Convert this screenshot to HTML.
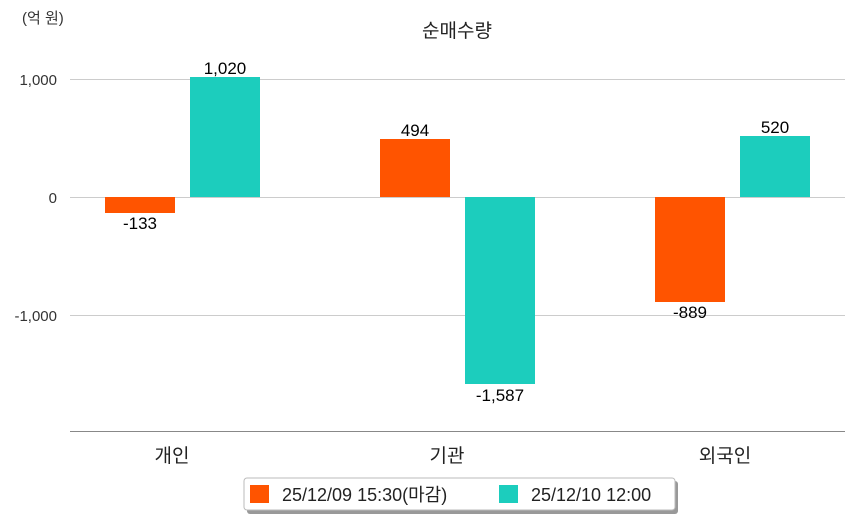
<!DOCTYPE html>
<html><head><meta charset="utf-8"><style>
body{margin:0;background:#fff}
svg text{font-family:"Liberation Sans","Noto Sans CJK KR",sans-serif}
</style></head><body>
<svg width="854" height="520" xmlns="http://www.w3.org/2000/svg">
<rect width="854" height="520" fill="#fff"/>
<text x="22" y="23" font-size="15" fill="#333">(억 원)</text>
<text x="457" y="37" font-size="19" fill="#222" text-anchor="middle">순매수량</text>
<g stroke="#ccc" stroke-width="1">
<line x1="70" y1="79.5" x2="845" y2="79.5"/>
<line x1="70" y1="197.5" x2="845" y2="197.5"/>
<line x1="70" y1="315.5" x2="845" y2="315.5"/>
</g>
<line x1="70" y1="431.5" x2="845" y2="431.5" stroke="#888" stroke-width="1"/>
<g font-size="15" fill="#333" text-anchor="end">
<text x="57" y="85">1,000</text>
<text x="57" y="203">0</text>
<text x="57" y="321">-1,000</text>
</g>
<rect x="105" y="197" width="70" height="16" fill="#ff5400"/>
<rect x="190" y="77" width="70" height="120" fill="#1ccdbd"/>
<rect x="380" y="139" width="70" height="58" fill="#ff5400"/>
<rect x="465" y="197" width="70" height="187" fill="#1ccdbd"/>
<rect x="655" y="197" width="70" height="105" fill="#ff5400"/>
<rect x="740" y="136" width="70" height="61" fill="#1ccdbd"/>
<g font-size="17" fill="#000" text-anchor="middle" font-weight="500">
<text x="140" y="229">-133</text>
<text x="225" y="74">1,020</text>
<text x="415" y="136">494</text>
<text x="500" y="401">-1,587</text>
<text x="690" y="318">-889</text>
<text x="775" y="133">520</text>
</g>
<g font-size="19" fill="#222" text-anchor="middle">
<text x="172" y="462">개인</text>
<text x="447" y="462">기관</text>
<text x="725" y="462">외국인</text>
</g>
<rect x="247" y="481" width="431" height="33" rx="3" fill="#999"/>
<rect x="244" y="478" width="431" height="32" rx="3" fill="#fff" stroke="#bbb"/>
<rect x="250" y="485" width="19" height="18" fill="#ff5400"/>
<text x="282" y="501" font-size="18" fill="#222">25/12/09 15:30(마감)</text>
<rect x="499" y="485" width="19" height="18" fill="#1ccdbd"/>
<text x="531" y="501" font-size="18" fill="#222">25/12/10 12:00</text>
</svg>
</body></html>
